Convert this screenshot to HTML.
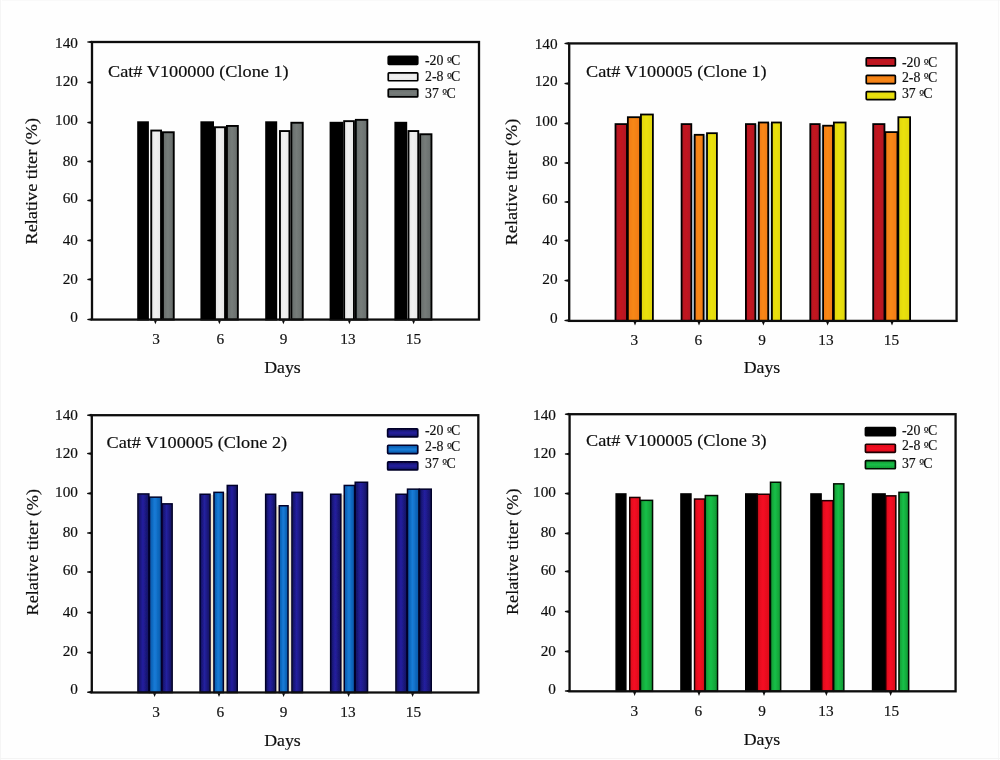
<!DOCTYPE html>
<html lang="en"><head><meta charset="utf-8"><title>Relative titer stability</title>
<style>html,body{margin:0;padding:0;background:#fff;}body{width:1000px;height:760px;overflow:hidden;}svg{display:block;}text{font-family:"Liberation Serif", "Times New Roman", serif;fill:#0c0c0c;stroke:#0c0c0c;stroke-width:0.16px;}</style>
</head><body>
<svg width="1000" height="760" viewBox="0 0 1000 760">
<defs>
<linearGradient id="gTL0" x1="0" y1="0" x2="1" y2="0"><stop offset="0" stop-color="#000000"/><stop offset="0.45" stop-color="#000000"/><stop offset="1" stop-color="#000000"/></linearGradient>
<linearGradient id="gTL1" x1="0" y1="0" x2="1" y2="0"><stop offset="0" stop-color="#e6e6e6"/><stop offset="0.45" stop-color="#f0f0f0"/><stop offset="1" stop-color="#e6e6e6"/></linearGradient>
<linearGradient id="gTL2" x1="0" y1="0" x2="1" y2="0"><stop offset="0" stop-color="#676d6b"/><stop offset="0.45" stop-color="#767c7a"/><stop offset="1" stop-color="#676d6b"/></linearGradient>
<linearGradient id="gTR0" x1="0" y1="0" x2="1" y2="0"><stop offset="0" stop-color="#b01422"/><stop offset="0.45" stop-color="#c4161f"/><stop offset="1" stop-color="#b01422"/></linearGradient>
<linearGradient id="gTR1" x1="0" y1="0" x2="1" y2="0"><stop offset="0" stop-color="#f07a12"/><stop offset="0.45" stop-color="#f88812"/><stop offset="1" stop-color="#f07a12"/></linearGradient>
<linearGradient id="gTR2" x1="0" y1="0" x2="1" y2="0"><stop offset="0" stop-color="#e0d60e"/><stop offset="0.45" stop-color="#eae110"/><stop offset="1" stop-color="#e0d60e"/></linearGradient>
<linearGradient id="gBL0" x1="0" y1="0" x2="1" y2="0"><stop offset="0" stop-color="#12115c"/><stop offset="0.45" stop-color="#2420a0"/><stop offset="1" stop-color="#12115c"/></linearGradient>
<linearGradient id="gBL1" x1="0" y1="0" x2="1" y2="0"><stop offset="0" stop-color="#0b56a6"/><stop offset="0.45" stop-color="#157cd8"/><stop offset="1" stop-color="#0b56a6"/></linearGradient>
<linearGradient id="gBL2" x1="0" y1="0" x2="1" y2="0"><stop offset="0" stop-color="#12115c"/><stop offset="0.45" stop-color="#2420a0"/><stop offset="1" stop-color="#12115c"/></linearGradient>
<linearGradient id="gBR0" x1="0" y1="0" x2="1" y2="0"><stop offset="0" stop-color="#000"/><stop offset="0.45" stop-color="#000"/><stop offset="1" stop-color="#000"/></linearGradient>
<linearGradient id="gBR1" x1="0" y1="0" x2="1" y2="0"><stop offset="0" stop-color="#d80a1c"/><stop offset="0.45" stop-color="#f60a22"/><stop offset="1" stop-color="#d80a1c"/></linearGradient>
<linearGradient id="gBR2" x1="0" y1="0" x2="1" y2="0"><stop offset="0" stop-color="#0f9632"/><stop offset="0.45" stop-color="#18c048"/><stop offset="1" stop-color="#0f9632"/></linearGradient>
<linearGradient id="vTL0" x1="0" y1="0" x2="0" y2="1"><stop offset="0" stop-color="#000000"/><stop offset="0.5" stop-color="#000000"/><stop offset="1" stop-color="#000000"/></linearGradient>
<linearGradient id="vTL1" x1="0" y1="0" x2="0" y2="1"><stop offset="0" stop-color="#e6e6e6"/><stop offset="0.5" stop-color="#f0f0f0"/><stop offset="1" stop-color="#e6e6e6"/></linearGradient>
<linearGradient id="vTL2" x1="0" y1="0" x2="0" y2="1"><stop offset="0" stop-color="#676d6b"/><stop offset="0.5" stop-color="#767c7a"/><stop offset="1" stop-color="#676d6b"/></linearGradient>
<linearGradient id="vTR0" x1="0" y1="0" x2="0" y2="1"><stop offset="0" stop-color="#b01422"/><stop offset="0.5" stop-color="#c4161f"/><stop offset="1" stop-color="#b01422"/></linearGradient>
<linearGradient id="vTR1" x1="0" y1="0" x2="0" y2="1"><stop offset="0" stop-color="#f07a12"/><stop offset="0.5" stop-color="#f88812"/><stop offset="1" stop-color="#f07a12"/></linearGradient>
<linearGradient id="vTR2" x1="0" y1="0" x2="0" y2="1"><stop offset="0" stop-color="#e0d60e"/><stop offset="0.5" stop-color="#eae110"/><stop offset="1" stop-color="#e0d60e"/></linearGradient>
<linearGradient id="vBL0" x1="0" y1="0" x2="0" y2="1"><stop offset="0" stop-color="#12115c"/><stop offset="0.5" stop-color="#2420a0"/><stop offset="1" stop-color="#12115c"/></linearGradient>
<linearGradient id="vBL1" x1="0" y1="0" x2="0" y2="1"><stop offset="0" stop-color="#0b56a6"/><stop offset="0.5" stop-color="#157cd8"/><stop offset="1" stop-color="#0b56a6"/></linearGradient>
<linearGradient id="vBL2" x1="0" y1="0" x2="0" y2="1"><stop offset="0" stop-color="#12115c"/><stop offset="0.5" stop-color="#2420a0"/><stop offset="1" stop-color="#12115c"/></linearGradient>
<linearGradient id="vBR0" x1="0" y1="0" x2="0" y2="1"><stop offset="0" stop-color="#000"/><stop offset="0.5" stop-color="#000"/><stop offset="1" stop-color="#000"/></linearGradient>
<linearGradient id="vBR1" x1="0" y1="0" x2="0" y2="1"><stop offset="0" stop-color="#d80a1c"/><stop offset="0.5" stop-color="#f60a22"/><stop offset="1" stop-color="#d80a1c"/></linearGradient>
<linearGradient id="vBR2" x1="0" y1="0" x2="0" y2="1"><stop offset="0" stop-color="#0f9632"/><stop offset="0.5" stop-color="#18c048"/><stop offset="1" stop-color="#0f9632"/></linearGradient>
<filter id="soft" x="0" y="0" width="1000" height="760" filterUnits="userSpaceOnUse"><feGaussianBlur stdDeviation="0.38"/></filter>
</defs>
<rect x="0" y="0" width="1000" height="760" fill="#fefefe"/>
<rect x="0" y="0" width="1" height="760" fill="#f5f5f5"/><rect x="998" y="0" width="1" height="760" fill="#f6f6f6"/><rect x="0" y="758" width="1000" height="1" fill="#f4f4f4"/><rect x="2" y="0" width="998" height="0.6" fill="#f6f6f6"/>
<g id="TL" filter="url(#soft)">
<rect x="138.15" y="122.25" width="9.80" height="197.35" fill="url(#gTL0)" stroke="#000000" stroke-width="1.90"/>
<rect x="151.25" y="130.55" width="9.80" height="189.05" fill="url(#gTL1)" stroke="#000000" stroke-width="1.90"/>
<rect x="162.95" y="132.25" width="10.80" height="187.35" fill="url(#gTL2)" stroke="#050505" stroke-width="1.90"/>
<rect x="201.35" y="122.25" width="11.70" height="197.35" fill="url(#gTL0)" stroke="#000000" stroke-width="1.90"/>
<rect x="214.95" y="127.25" width="10.10" height="192.35" fill="url(#gTL1)" stroke="#000000" stroke-width="1.90"/>
<rect x="226.95" y="125.95" width="10.90" height="193.65" fill="url(#gTL2)" stroke="#050505" stroke-width="1.90"/>
<rect x="266.15" y="122.25" width="10.10" height="197.35" fill="url(#gTL0)" stroke="#000000" stroke-width="1.90"/>
<rect x="279.95" y="131.05" width="9.50" height="188.55" fill="url(#gTL1)" stroke="#000000" stroke-width="1.90"/>
<rect x="291.35" y="122.75" width="11.40" height="196.85" fill="url(#gTL2)" stroke="#050505" stroke-width="1.90"/>
<rect x="330.55" y="122.75" width="11.70" height="196.85" fill="url(#gTL0)" stroke="#000000" stroke-width="1.90"/>
<rect x="344.15" y="121.15" width="9.80" height="198.45" fill="url(#gTL1)" stroke="#000000" stroke-width="1.90"/>
<rect x="355.85" y="119.85" width="11.50" height="199.75" fill="url(#gTL2)" stroke="#050505" stroke-width="1.90"/>
<rect x="395.35" y="122.75" width="10.90" height="196.85" fill="url(#gTL0)" stroke="#000000" stroke-width="1.90"/>
<rect x="408.45" y="131.05" width="9.80" height="188.55" fill="url(#gTL1)" stroke="#000000" stroke-width="1.90"/>
<rect x="420.15" y="134.25" width="11.30" height="185.35" fill="url(#gTL2)" stroke="#050505" stroke-width="1.90"/>
<rect x="92.00" y="42.00" width="387.00" height="277.60" fill="none" stroke="#0b0b0b" stroke-width="2.3"/>
<path d="M91.50 318.15 L91.50 320.85 L87.30 320.00 L87.30 319.00 Z" fill="#0b0b0b"/>
<text x="78.00" y="322.10" font-size="15.3" text-anchor="end">0</text>
<path d="M91.50 278.05 L91.50 280.75 L87.30 279.90 L87.30 278.90 Z" fill="#0b0b0b"/>
<text x="78.00" y="283.90" font-size="15.3" text-anchor="end">20</text>
<path d="M91.50 239.05 L91.50 241.75 L87.30 240.90 L87.30 239.90 Z" fill="#0b0b0b"/>
<text x="78.00" y="244.90" font-size="15.3" text-anchor="end">40</text>
<path d="M91.50 199.05 L91.50 201.75 L87.30 200.90 L87.30 199.90 Z" fill="#0b0b0b"/>
<text x="78.00" y="203.10" font-size="15.3" text-anchor="end">60</text>
<path d="M91.50 160.05 L91.50 162.75 L87.30 161.90 L87.30 160.90 Z" fill="#0b0b0b"/>
<text x="78.00" y="165.50" font-size="15.3" text-anchor="end">80</text>
<path d="M91.50 121.25 L91.50 123.95 L87.30 123.10 L87.30 122.10 Z" fill="#0b0b0b"/>
<text x="78.00" y="125.10" font-size="15.3" text-anchor="end">100</text>
<path d="M91.50 81.05 L91.50 83.75 L87.30 82.90 L87.30 81.90 Z" fill="#0b0b0b"/>
<text x="78.00" y="85.50" font-size="15.3" text-anchor="end">120</text>
<path d="M91.50 40.65 L91.50 43.35 L87.30 42.50 L87.30 41.50 Z" fill="#0b0b0b"/>
<text x="78.00" y="48.10" font-size="15.3" text-anchor="end">140</text>
<path d="M153.90 320.40 L156.90 320.40 L155.40 324.20 Z" fill="#0b0b0b"/>
<text x="156.00" y="344.00" font-size="15.3" text-anchor="middle">3</text>
<path d="M217.90 320.40 L220.90 320.40 L219.40 324.20 Z" fill="#0b0b0b"/>
<text x="220.40" y="344.00" font-size="15.3" text-anchor="middle">6</text>
<path d="M281.90 320.40 L284.90 320.40 L283.40 324.20 Z" fill="#0b0b0b"/>
<text x="283.60" y="344.00" font-size="15.3" text-anchor="middle">9</text>
<path d="M347.90 320.40 L350.90 320.40 L349.40 324.20 Z" fill="#0b0b0b"/>
<text x="348.00" y="344.00" font-size="15.3" text-anchor="middle">13</text>
<path d="M412.10 320.40 L415.10 320.40 L413.60 324.20 Z" fill="#0b0b0b"/>
<text x="413.40" y="344.00" font-size="15.3" text-anchor="middle">15</text>
<text transform="translate(282.50 373.00) scale(1.100 1)" font-size="16.2" text-anchor="middle">Days</text>
<text transform="translate(37.00 181.20) rotate(-90) scale(1.043 1)" font-size="17.5" text-anchor="middle">Relative titer (%)</text>
<text transform="translate(108.00 76.70) scale(1.107 1)" font-size="16.5" text-anchor="start">Cat# V100000 (Clone 1)</text>
<rect x="388.25" y="56.45" width="29.50" height="7.90" rx="0.8" fill="url(#vTL0)" stroke="#000000" stroke-width="1.70"/>
<text transform="translate(425.00 64.80) scale(0.905 1)" font-size="15.3" text-anchor="start">-20 <tspan font-family="'DejaVu Serif', serif" font-size="11.4" dy="-0.3" letter-spacing="-0.8">º</tspan><tspan dy="0.3">C</tspan></text>
<rect x="388.25" y="72.85" width="29.50" height="7.90" rx="0.8" fill="url(#vTL1)" stroke="#000000" stroke-width="1.70"/>
<text transform="translate(425.00 80.80) scale(0.905 1)" font-size="15.3" text-anchor="start">2-8 <tspan font-family="'DejaVu Serif', serif" font-size="11.4" dy="-0.3" letter-spacing="-0.8">º</tspan><tspan dy="0.3">C</tspan></text>
<rect x="388.25" y="89.05" width="29.50" height="7.90" rx="0.8" fill="url(#vTL2)" stroke="#050505" stroke-width="1.70"/>
<text transform="translate(425.00 97.60) scale(0.905 1)" font-size="15.3" text-anchor="start">37 <tspan font-family="'DejaVu Serif', serif" font-size="11.4" dy="-0.3" letter-spacing="-0.8">º</tspan><tspan dy="0.3">C</tspan></text>
</g>
<g id="TR" filter="url(#soft)">
<rect x="615.50" y="124.10" width="11.45" height="196.80" fill="url(#gTR0)" stroke="#000" stroke-width="1.80"/>
<rect x="627.85" y="117.20" width="12.20" height="203.70" fill="url(#gTR1)" stroke="#000" stroke-width="1.80"/>
<rect x="640.95" y="114.50" width="11.95" height="206.40" fill="url(#gTR2)" stroke="#000" stroke-width="1.80"/>
<rect x="691.90" y="135.40" width="2.20" height="185.50" fill="#c6dcec"/>
<rect x="704.20" y="135.40" width="2.20" height="185.50" fill="#c6dcec"/>
<rect x="681.60" y="124.10" width="9.70" height="196.80" fill="url(#gTR0)" stroke="#000" stroke-width="1.80"/>
<rect x="694.70" y="134.80" width="8.90" height="186.10" fill="url(#gTR1)" stroke="#000" stroke-width="1.80"/>
<rect x="707.00" y="133.20" width="9.90" height="187.70" fill="url(#gTR2)" stroke="#000" stroke-width="1.80"/>
<rect x="755.90" y="124.70" width="2.30" height="196.20" fill="#c6dcec"/>
<rect x="768.80" y="123.10" width="2.50" height="197.80" fill="#c6dcec"/>
<rect x="745.90" y="124.10" width="9.40" height="196.80" fill="url(#gTR0)" stroke="#000" stroke-width="1.80"/>
<rect x="758.80" y="122.50" width="9.40" height="198.40" fill="url(#gTR1)" stroke="#000" stroke-width="1.80"/>
<rect x="771.90" y="122.50" width="9.10" height="198.40" fill="url(#gTR2)" stroke="#000" stroke-width="1.80"/>
<rect x="820.30" y="126.30" width="2.20" height="194.60" fill="#c6dcec"/>
<rect x="810.30" y="124.10" width="9.40" height="196.80" fill="url(#gTR0)" stroke="#000" stroke-width="1.80"/>
<rect x="823.10" y="125.70" width="9.85" height="195.20" fill="url(#gTR1)" stroke="#000" stroke-width="1.80"/>
<rect x="833.85" y="122.50" width="11.75" height="198.40" fill="url(#gTR2)" stroke="#000" stroke-width="1.80"/>
<rect x="873.20" y="124.10" width="11.25" height="196.80" fill="url(#gTR0)" stroke="#000" stroke-width="1.80"/>
<rect x="885.35" y="132.10" width="12.10" height="188.80" fill="url(#gTR1)" stroke="#000" stroke-width="1.80"/>
<rect x="898.35" y="117.20" width="11.75" height="203.70" fill="url(#gTR2)" stroke="#000" stroke-width="1.80"/>
<rect x="569.20" y="43.40" width="387.40" height="277.50" fill="none" stroke="#0b0b0b" stroke-width="2.3"/>
<path d="M568.70 319.15 L568.70 321.85 L564.50 321.00 L564.50 320.00 Z" fill="#0b0b0b"/>
<text x="557.60" y="322.50" font-size="15.3" text-anchor="end">0</text>
<path d="M568.70 279.25 L568.70 281.95 L564.50 281.10 L564.50 280.10 Z" fill="#0b0b0b"/>
<text x="557.60" y="284.10" font-size="15.3" text-anchor="end">20</text>
<path d="M568.70 239.25 L568.70 241.95 L564.50 241.10 L564.50 240.10 Z" fill="#0b0b0b"/>
<text x="557.60" y="244.50" font-size="15.3" text-anchor="end">40</text>
<path d="M568.70 200.65 L568.70 203.35 L564.50 202.50 L564.50 201.50 Z" fill="#0b0b0b"/>
<text x="557.60" y="203.50" font-size="15.3" text-anchor="end">60</text>
<path d="M568.70 161.65 L568.70 164.35 L564.50 163.50 L564.50 162.50 Z" fill="#0b0b0b"/>
<text x="557.60" y="165.50" font-size="15.3" text-anchor="end">80</text>
<path d="M568.70 122.05 L568.70 124.75 L564.50 123.90 L564.50 122.90 Z" fill="#0b0b0b"/>
<text x="557.60" y="125.50" font-size="15.3" text-anchor="end">100</text>
<path d="M568.70 82.25 L568.70 84.95 L564.50 84.10 L564.50 83.10 Z" fill="#0b0b0b"/>
<text x="557.60" y="86.10" font-size="15.3" text-anchor="end">120</text>
<path d="M568.70 42.05 L568.70 44.75 L564.50 43.90 L564.50 42.90 Z" fill="#0b0b0b"/>
<text x="557.60" y="48.50" font-size="15.3" text-anchor="end">140</text>
<path d="M633.50 321.70 L636.50 321.70 L635.00 325.50 Z" fill="#0b0b0b"/>
<text x="634.40" y="345.00" font-size="15.3" text-anchor="middle">3</text>
<path d="M697.50 321.70 L700.50 321.70 L699.00 325.50 Z" fill="#0b0b0b"/>
<text x="698.40" y="345.00" font-size="15.3" text-anchor="middle">6</text>
<path d="M761.90 321.70 L764.90 321.70 L763.40 325.50 Z" fill="#0b0b0b"/>
<text x="762.00" y="345.00" font-size="15.3" text-anchor="middle">9</text>
<path d="M826.10 321.70 L829.10 321.70 L827.60 325.50 Z" fill="#0b0b0b"/>
<text x="826.00" y="345.00" font-size="15.3" text-anchor="middle">13</text>
<path d="M890.50 321.70 L893.50 321.70 L892.00 325.50 Z" fill="#0b0b0b"/>
<text x="891.40" y="345.00" font-size="15.3" text-anchor="middle">15</text>
<text transform="translate(762.00 373.00) scale(1.100 1)" font-size="16.2" text-anchor="middle">Days</text>
<text transform="translate(517.00 182.00) rotate(-90) scale(1.043 1)" font-size="17.5" text-anchor="middle">Relative titer (%)</text>
<text transform="translate(586.00 76.70) scale(1.107 1)" font-size="16.5" text-anchor="start">Cat# V100005 (Clone 1)</text>
<rect x="866.25" y="57.85" width="29.10" height="8.10" rx="0.8" fill="url(#vTR0)" stroke="#000" stroke-width="1.70"/>
<text transform="translate(901.90 66.80) scale(0.905 1)" font-size="15.3" text-anchor="start">-20 <tspan font-family="'DejaVu Serif', serif" font-size="11.4" dy="-0.3" letter-spacing="-0.8">º</tspan><tspan dy="0.3">C</tspan></text>
<rect x="866.25" y="75.45" width="29.10" height="8.10" rx="0.8" fill="url(#vTR1)" stroke="#000" stroke-width="1.70"/>
<text transform="translate(901.90 81.60) scale(0.905 1)" font-size="15.3" text-anchor="start">2-8 <tspan font-family="'DejaVu Serif', serif" font-size="11.4" dy="-0.3" letter-spacing="-0.8">º</tspan><tspan dy="0.3">C</tspan></text>
<rect x="866.25" y="91.65" width="29.10" height="7.90" rx="0.8" fill="url(#vTR2)" stroke="#000" stroke-width="1.70"/>
<text transform="translate(901.90 98.40) scale(0.905 1)" font-size="15.3" text-anchor="start">37 <tspan font-family="'DejaVu Serif', serif" font-size="11.4" dy="-0.3" letter-spacing="-0.8">º</tspan><tspan dy="0.3">C</tspan></text>
</g>
<g id="BL" filter="url(#soft)">
<rect x="137.95" y="493.95" width="10.95" height="198.55" fill="url(#gBL0)" stroke="#03032a" stroke-width="1.50"/>
<rect x="149.50" y="497.15" width="11.90" height="195.35" fill="url(#gBL1)" stroke="#03032a" stroke-width="1.50"/>
<rect x="162.00" y="503.85" width="10.15" height="188.65" fill="url(#gBL2)" stroke="#03032a" stroke-width="1.50"/>
<rect x="210.50" y="495.00" width="3.00" height="197.50" fill="#efe6cf"/>
<rect x="223.80" y="493.10" width="3.00" height="199.40" fill="#efe6cf"/>
<rect x="200.05" y="494.25" width="10.00" height="198.25" fill="url(#gBL0)" stroke="#03032a" stroke-width="1.50"/>
<rect x="213.95" y="492.35" width="9.40" height="200.15" fill="url(#gBL1)" stroke="#03032a" stroke-width="1.50"/>
<rect x="227.25" y="485.45" width="10.00" height="207.05" fill="url(#gBL2)" stroke="#03032a" stroke-width="1.50"/>
<rect x="276.10" y="506.50" width="2.70" height="186.00" fill="#efe6cf"/>
<rect x="288.50" y="506.50" width="3.00" height="186.00" fill="#efe6cf"/>
<rect x="265.65" y="494.25" width="10.00" height="198.25" fill="url(#gBL0)" stroke="#03032a" stroke-width="1.50"/>
<rect x="279.25" y="505.75" width="8.80" height="186.75" fill="url(#gBL1)" stroke="#03032a" stroke-width="1.50"/>
<rect x="291.95" y="492.35" width="10.50" height="200.15" fill="url(#gBL2)" stroke="#03032a" stroke-width="1.50"/>
<rect x="341.30" y="495.00" width="2.50" height="197.50" fill="#efe6cf"/>
<rect x="330.65" y="494.25" width="10.20" height="198.25" fill="url(#gBL0)" stroke="#03032a" stroke-width="1.50"/>
<rect x="344.25" y="485.45" width="10.35" height="207.05" fill="url(#gBL1)" stroke="#03032a" stroke-width="1.50"/>
<rect x="355.20" y="482.25" width="12.35" height="210.25" fill="url(#gBL2)" stroke="#03032a" stroke-width="1.50"/>
<rect x="395.95" y="494.25" width="10.95" height="198.25" fill="url(#gBL0)" stroke="#03032a" stroke-width="1.50"/>
<rect x="407.50" y="489.15" width="11.40" height="203.35" fill="url(#gBL1)" stroke="#03032a" stroke-width="1.50"/>
<rect x="419.50" y="489.15" width="11.75" height="203.35" fill="url(#gBL2)" stroke="#03032a" stroke-width="1.50"/>
<rect x="91.80" y="415.20" width="386.50" height="277.30" fill="none" stroke="#0b0b0b" stroke-width="2.3"/>
<path d="M91.30 690.85 L91.30 693.55 L87.10 692.70 L87.10 691.70 Z" fill="#0b0b0b"/>
<text x="78.00" y="693.90" font-size="15.3" text-anchor="end">0</text>
<path d="M91.30 651.25 L91.30 653.95 L87.10 653.10 L87.10 652.10 Z" fill="#0b0b0b"/>
<text x="78.00" y="655.50" font-size="15.3" text-anchor="end">20</text>
<path d="M91.30 611.25 L91.30 613.95 L87.10 613.10 L87.10 612.10 Z" fill="#0b0b0b"/>
<text x="78.00" y="616.50" font-size="15.3" text-anchor="end">40</text>
<path d="M91.30 570.65 L91.30 573.35 L87.10 572.50 L87.10 571.50 Z" fill="#0b0b0b"/>
<text x="78.00" y="575.10" font-size="15.3" text-anchor="end">60</text>
<path d="M91.30 531.65 L91.30 534.35 L87.10 533.50 L87.10 532.50 Z" fill="#0b0b0b"/>
<text x="78.00" y="536.90" font-size="15.3" text-anchor="end">80</text>
<path d="M91.30 492.05 L91.30 494.75 L87.10 493.90 L87.10 492.90 Z" fill="#0b0b0b"/>
<text x="78.00" y="497.10" font-size="15.3" text-anchor="end">100</text>
<path d="M91.30 452.25 L91.30 454.95 L87.10 454.10 L87.10 453.10 Z" fill="#0b0b0b"/>
<text x="78.00" y="457.50" font-size="15.3" text-anchor="end">120</text>
<path d="M91.30 413.85 L91.30 416.55 L87.10 415.70 L87.10 414.70 Z" fill="#0b0b0b"/>
<text x="78.00" y="419.90" font-size="15.3" text-anchor="end">140</text>
<path d="M153.10 693.30 L156.10 693.30 L154.60 697.10 Z" fill="#0b0b0b"/>
<text x="156.00" y="716.60" font-size="15.3" text-anchor="middle">3</text>
<path d="M217.50 693.30 L220.50 693.30 L219.00 697.10 Z" fill="#0b0b0b"/>
<text x="220.40" y="716.60" font-size="15.3" text-anchor="middle">6</text>
<path d="M282.10 693.30 L285.10 693.30 L283.60 697.10 Z" fill="#0b0b0b"/>
<text x="283.60" y="716.60" font-size="15.3" text-anchor="middle">9</text>
<path d="M347.10 693.30 L350.10 693.30 L348.60 697.10 Z" fill="#0b0b0b"/>
<text x="348.00" y="716.60" font-size="15.3" text-anchor="middle">13</text>
<path d="M411.10 693.30 L414.10 693.30 L412.60 697.10 Z" fill="#0b0b0b"/>
<text x="413.40" y="716.60" font-size="15.3" text-anchor="middle">15</text>
<text transform="translate(282.50 745.60) scale(1.100 1)" font-size="16.2" text-anchor="middle">Days</text>
<text transform="translate(37.50 552.20) rotate(-90) scale(1.043 1)" font-size="17.5" text-anchor="middle">Relative titer (%)</text>
<text transform="translate(106.50 448.00) scale(1.107 1)" font-size="16.5" text-anchor="start">Cat# V100005 (Clone 2)</text>
<rect x="387.65" y="428.85" width="30.10" height="8.10" rx="0.8" fill="url(#vBL0)" stroke="#03032a" stroke-width="1.70"/>
<text transform="translate(425.00 435.20) scale(0.905 1)" font-size="15.3" text-anchor="start">-20 <tspan font-family="'DejaVu Serif', serif" font-size="11.4" dy="-0.3" letter-spacing="-0.8">º</tspan><tspan dy="0.3">C</tspan></text>
<rect x="387.65" y="445.25" width="30.10" height="8.30" rx="0.8" fill="url(#vBL1)" stroke="#03032a" stroke-width="1.70"/>
<text transform="translate(425.00 450.80) scale(0.905 1)" font-size="15.3" text-anchor="start">2-8 <tspan font-family="'DejaVu Serif', serif" font-size="11.4" dy="-0.3" letter-spacing="-0.8">º</tspan><tspan dy="0.3">C</tspan></text>
<rect x="387.65" y="461.85" width="30.10" height="8.10" rx="0.8" fill="url(#vBL2)" stroke="#03032a" stroke-width="1.70"/>
<text transform="translate(425.00 467.60) scale(0.905 1)" font-size="15.3" text-anchor="start">37 <tspan font-family="'DejaVu Serif', serif" font-size="11.4" dy="-0.3" letter-spacing="-0.8">º</tspan><tspan dy="0.3">C</tspan></text>
</g>
<g id="BR" filter="url(#soft)">
<rect x="616.15" y="493.95" width="9.70" height="197.35" fill="url(#gBR0)" stroke="#000" stroke-width="1.50"/>
<rect x="629.75" y="497.45" width="10.15" height="193.85" fill="url(#gBR1)" stroke="#1a0003" stroke-width="1.50"/>
<rect x="640.50" y="500.35" width="12.05" height="190.95" fill="url(#gBR2)" stroke="#011004" stroke-width="1.50"/>
<rect x="680.95" y="493.95" width="10.00" height="197.35" fill="url(#gBR0)" stroke="#000" stroke-width="1.50"/>
<rect x="694.55" y="499.05" width="10.15" height="192.25" fill="url(#gBR1)" stroke="#1a0003" stroke-width="1.50"/>
<rect x="705.30" y="495.55" width="12.25" height="195.75" fill="url(#gBR2)" stroke="#011004" stroke-width="1.50"/>
<rect x="745.75" y="493.95" width="11.30" height="197.35" fill="url(#gBR0)" stroke="#000" stroke-width="1.50"/>
<rect x="757.35" y="494.25" width="12.55" height="197.05" fill="url(#gBR1)" stroke="#1a0003" stroke-width="1.50"/>
<rect x="770.50" y="482.25" width="10.15" height="209.05" fill="url(#gBR2)" stroke="#011004" stroke-width="1.50"/>
<rect x="810.95" y="493.95" width="10.15" height="197.35" fill="url(#gBR0)" stroke="#000" stroke-width="1.50"/>
<rect x="821.70" y="500.65" width="11.40" height="190.65" fill="url(#gBR1)" stroke="#1a0003" stroke-width="1.50"/>
<rect x="833.70" y="483.85" width="10.15" height="207.45" fill="url(#gBR2)" stroke="#011004" stroke-width="1.50"/>
<rect x="872.55" y="493.95" width="12.55" height="197.35" fill="url(#gBR0)" stroke="#000" stroke-width="1.50"/>
<rect x="885.70" y="495.85" width="10.15" height="195.45" fill="url(#gBR1)" stroke="#1a0003" stroke-width="1.50"/>
<rect x="898.95" y="492.35" width="9.70" height="198.95" fill="url(#gBR2)" stroke="#011004" stroke-width="1.50"/>
<rect x="569.60" y="414.20" width="386.00" height="277.10" fill="none" stroke="#0b0b0b" stroke-width="2.3"/>
<path d="M569.10 689.65 L569.10 692.35 L564.90 691.50 L564.90 690.50 Z" fill="#0b0b0b"/>
<text x="556.00" y="693.50" font-size="15.3" text-anchor="end">0</text>
<path d="M569.10 650.05 L569.10 652.75 L564.90 651.90 L564.90 650.90 Z" fill="#0b0b0b"/>
<text x="556.00" y="655.50" font-size="15.3" text-anchor="end">20</text>
<path d="M569.10 610.25 L569.10 612.95 L564.90 612.10 L564.90 611.10 Z" fill="#0b0b0b"/>
<text x="556.00" y="615.50" font-size="15.3" text-anchor="end">40</text>
<path d="M569.10 570.05 L569.10 572.75 L564.90 571.90 L564.90 570.90 Z" fill="#0b0b0b"/>
<text x="556.00" y="574.90" font-size="15.3" text-anchor="end">60</text>
<path d="M569.10 532.05 L569.10 534.75 L564.90 533.90 L564.90 532.90 Z" fill="#0b0b0b"/>
<text x="556.00" y="536.50" font-size="15.3" text-anchor="end">80</text>
<path d="M569.10 492.25 L569.10 494.95 L564.90 494.10 L564.90 493.10 Z" fill="#0b0b0b"/>
<text x="556.00" y="496.90" font-size="15.3" text-anchor="end">100</text>
<path d="M569.10 452.65 L569.10 455.35 L564.90 454.50 L564.90 453.50 Z" fill="#0b0b0b"/>
<text x="556.00" y="457.50" font-size="15.3" text-anchor="end">120</text>
<path d="M569.10 412.85 L569.10 415.55 L564.90 414.70 L564.90 413.70 Z" fill="#0b0b0b"/>
<text x="556.00" y="419.90" font-size="15.3" text-anchor="end">140</text>
<path d="M633.10 692.10 L636.10 692.10 L634.60 695.90 Z" fill="#0b0b0b"/>
<text x="634.40" y="715.60" font-size="15.3" text-anchor="middle">3</text>
<path d="M697.50 692.10 L700.50 692.10 L699.00 695.90 Z" fill="#0b0b0b"/>
<text x="698.40" y="715.60" font-size="15.3" text-anchor="middle">6</text>
<path d="M762.50 692.10 L765.50 692.10 L764.00 695.90 Z" fill="#0b0b0b"/>
<text x="762.00" y="715.60" font-size="15.3" text-anchor="middle">9</text>
<path d="M824.90 692.10 L827.90 692.10 L826.40 695.90 Z" fill="#0b0b0b"/>
<text x="826.00" y="715.60" font-size="15.3" text-anchor="middle">13</text>
<path d="M889.10 692.10 L892.10 692.10 L890.60 695.90 Z" fill="#0b0b0b"/>
<text x="891.40" y="715.60" font-size="15.3" text-anchor="middle">15</text>
<text transform="translate(762.00 745.40) scale(1.100 1)" font-size="16.2" text-anchor="middle">Days</text>
<text transform="translate(517.50 551.80) rotate(-90) scale(1.043 1)" font-size="17.5" text-anchor="middle">Relative titer (%)</text>
<text transform="translate(586.00 446.00) scale(1.107 1)" font-size="16.5" text-anchor="start">Cat# V100005 (Clone 3)</text>
<rect x="865.45" y="427.65" width="29.90" height="8.10" rx="0.8" fill="url(#vBR0)" stroke="#000" stroke-width="1.70"/>
<text transform="translate(901.90 435.20) scale(0.905 1)" font-size="15.3" text-anchor="start">-20 <tspan font-family="'DejaVu Serif', serif" font-size="11.4" dy="-0.3" letter-spacing="-0.8">º</tspan><tspan dy="0.3">C</tspan></text>
<rect x="865.45" y="444.25" width="29.90" height="8.10" rx="0.8" fill="url(#vBR1)" stroke="#1a0003" stroke-width="1.70"/>
<text transform="translate(901.90 450.40) scale(0.905 1)" font-size="15.3" text-anchor="start">2-8 <tspan font-family="'DejaVu Serif', serif" font-size="11.4" dy="-0.3" letter-spacing="-0.8">º</tspan><tspan dy="0.3">C</tspan></text>
<rect x="865.45" y="460.65" width="29.90" height="8.10" rx="0.8" fill="url(#vBR2)" stroke="#011004" stroke-width="1.70"/>
<text transform="translate(901.90 467.60) scale(0.905 1)" font-size="15.3" text-anchor="start">37 <tspan font-family="'DejaVu Serif', serif" font-size="11.4" dy="-0.3" letter-spacing="-0.8">º</tspan><tspan dy="0.3">C</tspan></text>
</g>
</svg>
</body></html>
